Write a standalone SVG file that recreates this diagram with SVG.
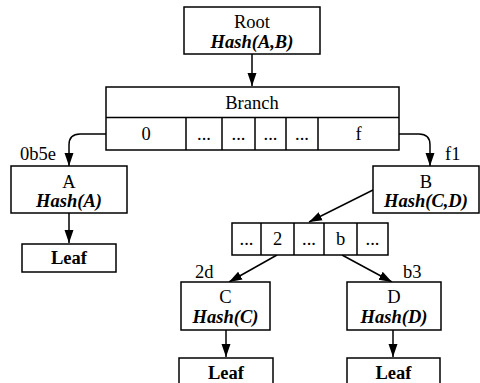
<svg xmlns="http://www.w3.org/2000/svg" width="480" height="383" viewBox="0 0 480 383">
  <defs>
    <marker id="arrow" markerUnits="userSpaceOnUse" markerWidth="13" markerHeight="13" viewBox="0 0 13 13" refX="13" refY="6.5" orient="auto">
      <path d="M0,2 L13,6.5 L0,11 Z" fill="#000"/>
    </marker>
    <style>
      .box { fill: #fff; stroke: #000; stroke-width: 1.5; }
      .cell { fill: none; stroke: #000; stroke-width: 1.5; }
      .edge { fill: none; stroke: #000; stroke-width: 1.5; marker-end: url(#arrow); }
      text { font-family: "Liberation Serif", "Times New Roman", serif; font-size: 18.5px; fill: #000; text-anchor: middle; }
      .hash { font-weight: bold; font-style: italic; }
      .leaf { font-weight: bold; }
      .lbl { text-anchor: start; }
    </style>
  </defs>
  <rect width="480" height="383" fill="#fff"/>

  <!-- connectors -->
  <g id="connectors">
    <path class="edge" d="M252,54 V86"/>
    <path class="edge" d="M106,134 H80 Q69,134 69,145 V166"/>
    <path class="edge" d="M399,134 H419 Q430,134 430,145 V166"/>
    <path class="edge" d="M69,213 V243"/>
    <path class="edge" d="M373,190 L309,222"/>
    <path class="edge" d="M277,255 L229,282"/>
    <path class="edge" d="M342,255 L392,282"/>
    <path class="edge" d="M226,330 V357"/>
    <path class="edge" d="M393,330 V357"/>
    <text class="lbl" x="20" y="160">0b5e</text>
    <text class="lbl" x="445" y="160">f1</text>
    <text class="lbl" x="195" y="278">2d</text>
    <text class="lbl" x="403" y="278">b3</text>
  </g>

  <g id="root">
    <rect class="box" x="184" y="7" width="136" height="47"/>
    <text x="252" y="28">Root</text>
    <text class="hash" x="252" y="48">Hash(A,B)</text>
  </g>

  <g id="branch">
    <rect class="box" x="106" y="87" width="293" height="63"/>
    <path class="cell" d="M106,117.5 H399 M186,117.5 V150 M222,117.5 V150 M255,117.5 V150 M286,117.5 V150 M318,117.5 V150"/>
    <text x="252" y="109">Branch</text>
    <text x="146" y="140">0</text>
    <text x="204" y="140">...</text>
    <text x="238.5" y="140">...</text>
    <text x="270.5" y="140">...</text>
    <text x="302" y="140">...</text>
    <text x="358.5" y="140">f</text>
  </g>

  <g id="node-a">
    <rect class="box" x="11" y="166" width="116" height="47"/>
    <text x="69" y="188">A</text>
    <text class="hash" x="69" y="207">Hash(A)</text>
  </g>

  <g id="leaf-a">
    <rect class="box" x="22" y="244" width="94" height="28"/>
    <text class="leaf" x="69" y="264">Leaf</text>
  </g>

  <g id="node-b">
    <rect class="box" x="373" y="166" width="106" height="47"/>
    <text x="426" y="188">B</text>
    <text class="hash" x="426" y="207">Hash(C,D)</text>
  </g>

  <g id="extension">
    <rect class="box" x="232" y="223" width="156" height="32"/>
    <path class="cell" d="M261,223 V255 M294,223 V255 M324,223 V255 M357,223 V255"/>
    <text x="246.5" y="245">...</text>
    <text x="277.5" y="245">2</text>
    <text x="309" y="245">...</text>
    <text x="340.5" y="245">b</text>
    <text x="372.5" y="245">...</text>
  </g>

  <g id="node-c">
    <rect class="box" x="181" y="282" width="89" height="48"/>
    <text x="225.5" y="303">C</text>
    <text class="hash" x="225.5" y="323">Hash(C)</text>
  </g>

  <g id="node-d">
    <rect class="box" x="347" y="282" width="94" height="48"/>
    <text x="394" y="303">D</text>
    <text class="hash" x="394" y="323">Hash(D)</text>
  </g>

  <g id="leaf-c">
    <rect class="box" x="179" y="358" width="94" height="30"/>
    <text class="leaf" x="226" y="379">Leaf</text>
  </g>

  <g id="leaf-d">
    <rect class="box" x="347" y="358" width="93" height="30"/>
    <text class="leaf" x="393.5" y="379">Leaf</text>
  </g>
</svg>
